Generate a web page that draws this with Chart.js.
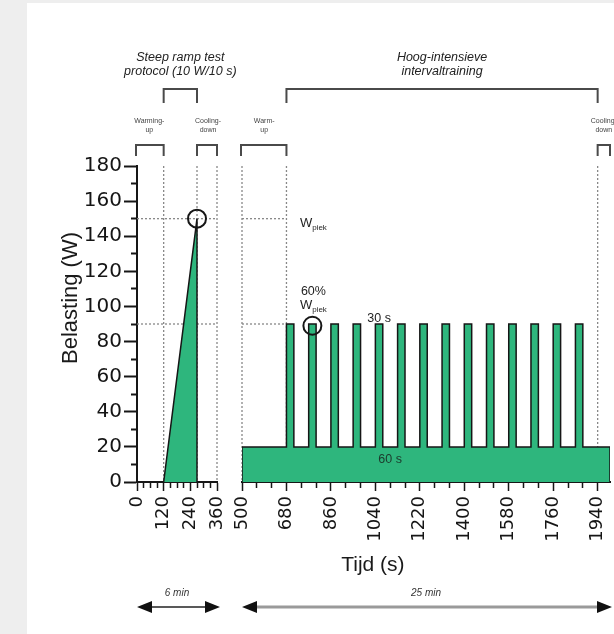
<!DOCTYPE html>
<html>
<head>
<meta charset="utf-8">
<script src="https://cdn.jsdelivr.net/npm/chart.js@4.4.1/dist/chart.umd.min.js"></script>
<style>
  html, body { margin: 0; padding: 0; width: 614px; height: 634px; overflow: hidden; background: #eeeeee; }
  #paper { position: absolute; left: 27px; top: 3px; width: 587px; height: 631px; background: #fff; }
  #left { position: absolute; left: 0; top: 0; }
  #right { position: absolute; left: 200px; top: 0; }
</style>
</head>
<body>
<div id="paper"></div>
<canvas id="left" width="260" height="634"></canvas>
<canvas id="right" width="450" height="634"></canvas>
<script>
// tick labels
const loadTicks = [0, 20, 40, 60, 80, 100, 120, 140, 160, 180];
const rampTicks = [0, 120, 240, 360];
const hiitTicks = [500, 680, 860, 1040, 1220, 1400, 1580, 1760, 1940];

// steep ramp test: 10 W per 10 s from 120 s
const rampTime = [120, 270, 270];
const rampLoad = [0, 150, 0];

// HIIT: 30 s at 90 W, 60 s at 20 W
const sprintStart = [680, 770, 860, 950, 1040, 1130, 1220, 1310, 1400, 1490, 1580, 1670, 1760, 1850];
const sprintEnd   = [710, 800, 890, 980, 1070, 1160, 1250, 1340, 1430, 1520, 1610, 1700, 1790, 1880];
const sprintLoad = 90;
const restLoad = 20;
const hiitBegin = 500;
const hiitStop = 1990;

// circled points
const peakMarkTime = [270];
const peakMarkLoad = [150];
const sprintMarkTime = [785];
const sprintMarkLoad = [89];

const GREEN = '#2eb67d';
const INK = '#161616';
const TICKFONT = 'DejaVu Sans';
const TXT = 'Liberation Sans';

const hiitPoints = [{x: hiitBegin, y: 0}, {x: hiitBegin, y: restLoad}];
for (let i = 0; i < sprintStart.length; i++) {
  hiitPoints.push({x: sprintStart[i], y: restLoad}, {x: sprintStart[i], y: sprintLoad},
                  {x: sprintEnd[i], y: sprintLoad}, {x: sprintEnd[i], y: restLoad});
}
hiitPoints.push({x: hiitStop, y: restLoad}, {x: hiitStop, y: 0});

const rampPoints = rampTime.map((t, i) => ({x: t, y: rampLoad[i]}));

function steps(from, to, step) {
  const out = [];
  for (let v = from; v <= to; v += step) out.push(v);
  return out;
}

// ---- drawing helpers ----
function bracket(ctx, x1, x2, yTop, yBot) {
  ctx.save();
  ctx.strokeStyle = '#4a4a4a';
  ctx.lineWidth = 2;
  ctx.beginPath();
  ctx.moveTo(x1, yBot);
  ctx.lineTo(x1, yTop);
  ctx.lineTo(x2, yTop);
  ctx.lineTo(x2, yBot);
  ctx.stroke();
  ctx.restore();
}

function lines(ctx, x, y, list, font, gap, color) {
  ctx.save();
  ctx.font = font;
  ctx.fillStyle = color || '#333';
  ctx.textAlign = 'center';
  ctx.textBaseline = 'alphabetic';
  list.forEach((s, i) => ctx.fillText(s, x, y + i * gap));
  ctx.restore();
}

function arrow(ctx, x1, x2, y, color, width) {
  ctx.save();
  ctx.strokeStyle = color;
  ctx.lineWidth = width;
  ctx.beginPath();
  ctx.moveTo(x1 + 10, y);
  ctx.lineTo(x2 - 10, y);
  ctx.stroke();
  ctx.fillStyle = '#111';
  ctx.beginPath();
  ctx.moveTo(x1, y); ctx.lineTo(x1 + 15, y - 6); ctx.lineTo(x1 + 15, y + 6); ctx.closePath();
  ctx.moveTo(x2, y); ctx.lineTo(x2 - 15, y - 6); ctx.lineTo(x2 - 15, y + 6); ctx.closePath();
  ctx.fill();
  ctx.restore();
}

function wpiek(ctx, cx, base) {
  ctx.save();
  ctx.fillStyle = '#1e1e1e';
  ctx.textBaseline = 'alphabetic';
  ctx.textAlign = 'left';
  ctx.font = '13px "' + TXT + '"';
  const w1 = ctx.measureText('W').width;
  ctx.font = '8px "' + TXT + '"';
  const w2 = ctx.measureText('piek').width;
  const x0 = cx - (w1 + w2) / 2;
  ctx.font = '13px "' + TXT + '"';
  ctx.fillText('W', x0, base);
  ctx.font = '8px "' + TXT + '"';
  ctx.fillText('piek', x0 + w1, base + 3);
  ctx.restore();
}

function dotted(ctx, x1, y1, x2, y2) {
  ctx.save();
  ctx.strokeStyle = '#888';
  ctx.lineWidth = 1.3;
  ctx.setLineDash([2, 2]);
  ctx.beginPath();
  ctx.moveTo(x1, y1);
  ctx.lineTo(x2, y2);
  ctx.stroke();
  ctx.restore();
}

function xAxis(min, max, minor, major) {
  return {
    type: 'linear', min: min, max: max, z: 1,
    afterBuildTicks: s => { s.ticks = minor.map(v => ({value: v})); },
    afterFit: s => { s.height = 152; },
    border: {display: true, color: INK, width: 2},
    grid: {
      drawOnChartArea: false, tickLength: 9, tickWidth: 1.5, color: INK,
      tickBorderDash: c => (c.tick && major.includes(c.tick.value)) ? [] : [5, 100]
    },
    ticks: {
      font: {family: TICKFONT, size: 18}, color: '#151515', padding: 5,
      minRotation: 90, maxRotation: 90, autoSkip: false,
      callback: v => major.includes(v) ? String(v) : ''
    }
  };
}

function circleSet(times, loads) {
  return {
    type: 'scatter',
    data: times.map((t, i) => ({x: t, y: loads[i]})),
    pointStyle: 'circle', pointRadius: 9, pointBorderWidth: 2,
    pointBorderColor: INK, pointBackgroundColor: 'rgba(0,0,0,0)',
    showLine: false, clip: false
  };
}

const common = {
  responsive: false, animation: false, devicePixelRatio: 1, events: [],
  plugins: {legend: {display: false}, tooltip: {enabled: false}}
};

// ---- left: steep ramp test ----
const leftDecor = {
  id: 'leftDecor',
  beforeDatasetsDraw(chart) {
    const {ctx, chartArea: a, scales: {x, y}} = chart;
    [120, 270, 360].forEach(t => dotted(ctx, x.getPixelForValue(t), a.top, x.getPixelForValue(t), a.bottom));
    [150, 90].forEach(w => dotted(ctx, a.left, y.getPixelForValue(w), x.getPixelForValue(360), y.getPixelForValue(w)));
  },
  afterDraw(chart) {
    const {ctx, scales: {x}} = chart;
    const px = v => x.getPixelForValue(v);
    // y title
    ctx.save();
    ctx.translate(71, 298);
    ctx.rotate(-Math.PI / 2);
    ctx.font = '22px "' + TXT + '"';
    ctx.fillStyle = '#1a1a1a';
    ctx.textAlign = 'center';
    ctx.textBaseline = 'middle';
    ctx.fillText('Belasting (W)', 0, 0);
    ctx.restore();
    // small brackets
    bracket(ctx, px(0) - 1, px(120), 145, 156);
    bracket(ctx, px(270), px(360), 145, 156);
    lines(ctx, (px(0) + px(120)) / 2 - 1, 123, ['Warming-', 'up'], '7px "' + TXT + '"', 9, '#444');
    lines(ctx, (px(270) + px(360)) / 2 + 1, 123, ['Cooling-', 'down'], '7px "' + TXT + '"', 9, '#444');
    // protocol bracket
    bracket(ctx, px(120), px(270), 89, 103);
    lines(ctx, (px(120) + px(270)) / 2, 61, ['Steep ramp test', 'protocol (10 W/10 s)'],
          'italic 12.5px "' + TXT + '"', 14, '#222');
    // duration arrow
    arrow(ctx, px(0), px(360) + 3, 607, '#222', 1.5);
    lines(ctx, (px(0) + px(360)) / 2, 596, ['6 min'], 'italic 10px "' + TXT + '"', 0, '#333');
  }
};

new Chart(document.getElementById('left'), {
  type: 'line',
  data: {
    datasets: [
      circleSet(peakMarkTime, peakMarkLoad),
      {
        data: rampPoints, fill: 'origin', backgroundColor: GREEN,
        borderColor: INK, borderWidth: 1.5, pointRadius: 0, tension: 0, borderJoinStyle: 'miter'
      }
    ]
  },
  options: Object.assign({}, common, {
    layout: {padding: {top: 166, right: 43, bottom: 0, left: 0}},
    scales: {
      x: xAxis(0, 360, steps(0, 360, 30), rampTicks),
      y: {
        min: 0, max: 180,
        afterBuildTicks: s => { s.ticks = steps(0, 180, 10).map(v => ({value: v})); },
        afterFit: s => { s.width = 137; },
        border: {display: true, color: INK, width: 2},
        grid: {
          drawOnChartArea: false, tickLength: 13, tickWidth: 2, color: INK,
          tickBorderDash: c => (c.tick && loadTicks.includes(c.tick.value)) ? [] : [0, 7, 6, 200]
        },
        ticks: {
          font: {family: TICKFONT, size: 20}, color: '#151515', padding: 2, autoSkip: false,
          callback: v => loadTicks.includes(v) ? String(v) : ''
        }
      }
    }
  }),
  plugins: [leftDecor]
});

// ---- right: HIIT ----
const rightDecor = {
  id: 'rightDecor',
  beforeDatasetsDraw(chart) {
    const {ctx, chartArea: a, scales: {x, y}} = chart;
    [hiitBegin, 680, 1940].forEach(t => dotted(ctx, x.getPixelForValue(t), a.top, x.getPixelForValue(t), a.bottom));
    [150, 90].forEach(w => dotted(ctx, x.getPixelForValue(hiitBegin), y.getPixelForValue(w), x.getPixelForValue(680), y.getPixelForValue(w)));
  },
  afterDraw(chart) {
    const {ctx, scales: {x, y}} = chart;
    const px = v => x.getPixelForValue(v);
    const py = v => y.getPixelForValue(v);
    // small brackets
    bracket(ctx, px(hiitBegin) - 1, px(680), 145, 156);
    bracket(ctx, px(1940), px(hiitStop), 145, 156);
    lines(ctx, (px(hiitBegin) + px(680)) / 2, 123, ['Warm-', 'up'], '7px "' + TXT + '"', 9, '#444');
    lines(ctx, (px(1940) + px(hiitStop)) / 2, 123, ['Cooling-', 'down'], '7px "' + TXT + '"', 9, '#444');
    // training bracket
    bracket(ctx, px(680), px(1940), 89, 103);
    lines(ctx, (px(680) + px(1940)) / 2, 61, ['Hoog-intensieve', 'intervaltraining'],
          'italic 12.5px "' + TXT + '"', 14, '#222');
    // labels in plot
    const cx = px(sprintMarkTime[0]) + 1;
    wpiek(ctx, cx, py(150) + 8);
    lines(ctx, cx, py(sprintLoad) - 29, ['60%'], '12.5px "' + TXT + '"', 0, '#1e1e1e');
    wpiek(ctx, cx, py(sprintLoad) - 15);
    lines(ctx, px(1055), py(sprintLoad) - 2, ['30 s'], '12.5px "' + TXT + '"', 0, '#1e1e1e');
    lines(ctx, px(1100), py(restLoad) + 16, ['60 s'], '12.5px "' + TXT + '"', 0, '#1c3a2c');
    // x title
    lines(ctx, px(1030), 571, ['Tijd (s)'], '21px "' + TXT + '"', 0, '#1a1a1a');
    // duration arrow
    arrow(ctx, px(hiitBegin), px(hiitStop) + 2, 607, '#9a9a9a', 3);
    lines(ctx, (px(hiitBegin) + px(hiitStop)) / 2, 596, ['25 min'], 'italic 10px "' + TXT + '"', 0, '#333');
  }
};

new Chart(document.getElementById('right'), {
  type: 'line',
  data: {
    datasets: [
      circleSet(sprintMarkTime, sprintMarkLoad),
      {
        data: hiitPoints, fill: 'origin', backgroundColor: GREEN,
        borderColor: INK, borderWidth: 1.5, pointRadius: 0, tension: 0, borderJoinStyle: 'miter'
      }
    ]
  },
  options: Object.assign({}, common, {
    layout: {padding: {top: 166, right: 40, bottom: 0, left: 42}},
    scales: {
      x: xAxis(hiitBegin, hiitStop, steps(hiitBegin, hiitStop, 60), hiitTicks),
      y: {display: false, min: 0, max: 180}
    }
  }),
  plugins: [rightDecor]
});
</script>
</body>
</html>
